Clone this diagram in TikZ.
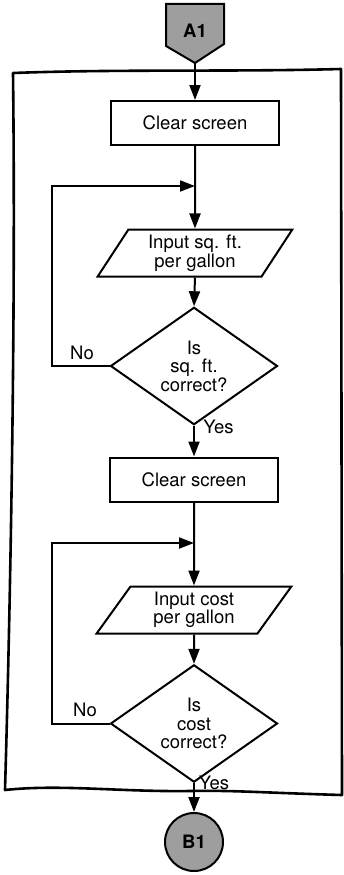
\documentclass[tikz,border=0pt]{standalone}
\usepackage{fontspec}
\setmainfont{TeX Gyre Heros}
\usetikzlibrary{shapes.geometric,arrows.meta}
\begin{document}
\begin{tikzpicture}[x=1pt,y=-1pt,
  line width=2pt,
  lbl/.style={font=\fontsize{18.5}{18.5}\selectfont, align=center},
  procbox/.style={draw, rectangle, minimum width=168pt, minimum height=44pt, inner sep=0pt, lbl},
  iobox/.style={draw, trapezium, trapezium left angle=59, trapezium right angle=121,
    trapezium stretches=true, minimum width=195pt, minimum height=47pt, inner sep=0pt, lbl},
  decision/.style={draw, diamond, minimum width=167pt, minimum height=94pt, inner sep=0pt, lbl},
  offpage/.style={minimum width=56pt, minimum height=57pt, inner sep=0pt},
  onpage/.style={draw, circle, fill=black!38, minimum size=58pt, inner sep=0pt, font=\fontsize{18.5}{19}\selectfont\bfseries},
  flow/.style={-{Triangle[length=15pt,width=11pt]}},
  tag/.style={lbl, inner sep=0pt},
]
\useasboundingbox (0,0) rectangle (343,875);

% hand-drawn frame around the routine
\draw[line width=2.6pt, line join=round]
  (13,73) .. controls (120,69) and (230,72) .. (341,69)
  -- (342,795)
  .. controls (270,793) and (230,790) .. (190,791)
  .. controls (120,792) and (60,784) .. (5,790)
  .. controls (10,620) and (16,320) .. (13,73) -- cycle;

% off-page entry connector
\node[offpage] (A1) at (195,33.5) {};
\filldraw[fill=black!38, line join=miter]
  (A1.north west) -- (A1.north east) -- ++(0,40) -- (A1.south) -- ([yshift=17pt]A1.south west) -- cycle;
\node[font=\fontsize{18.5}{19}\selectfont\bfseries] at (195,31) {A1};

% process steps
\node[procbox] (c1) at (195,123) {Clear screen};
\node[iobox] (p1) at (195,253) {Input sq. ft.\\per gallon};
\node[decision] (d1) at (194,366) {Is\\sq. ft.\\correct?};
\node[procbox] (c2) at (194,479.5) {Clear screen};
\node[iobox] (p2) at (194,610) {Input cost\\per gallon};
\node[decision] (d2) at (194,723.5) {Is\\cost\\correct?};
\node[onpage] (B1) at (194,842) {B1};

% junction points of the retry loops
\coordinate (j1) at (195,186);
\coordinate (j2) at (194,543);
\coordinate (l1) at (52,366);
\coordinate (l2) at (52,723.5);

% main flow
\draw[flow] (A1.south) -- (c1.north);
\draw[flow] (c1.south) -- (p1.north);
\draw[flow] (p1.south) -- (d1.north);
\draw[flow] (d1.south) -- (c2.north);
\draw[flow] (c2.south) -- (p2.north);
\draw[flow] (p2.south) -- (d2.north);
\draw[flow] (d2.south) -- (B1.north);

% retry loops
\draw[flow] (d1.west) -- (l1) |- (j1);
\draw[flow] (d2.west) -- (l2) |- (j2);

% branch labels
\node[tag] (no1) at (82,353) {No};
\node[tag] (yes1) at (218.5,427) {Yes};
\node[tag] (no2) at (85,710) {No};
\node[tag] (yes2) at (214,783) {Yes};
\end{tikzpicture}
\end{document}
